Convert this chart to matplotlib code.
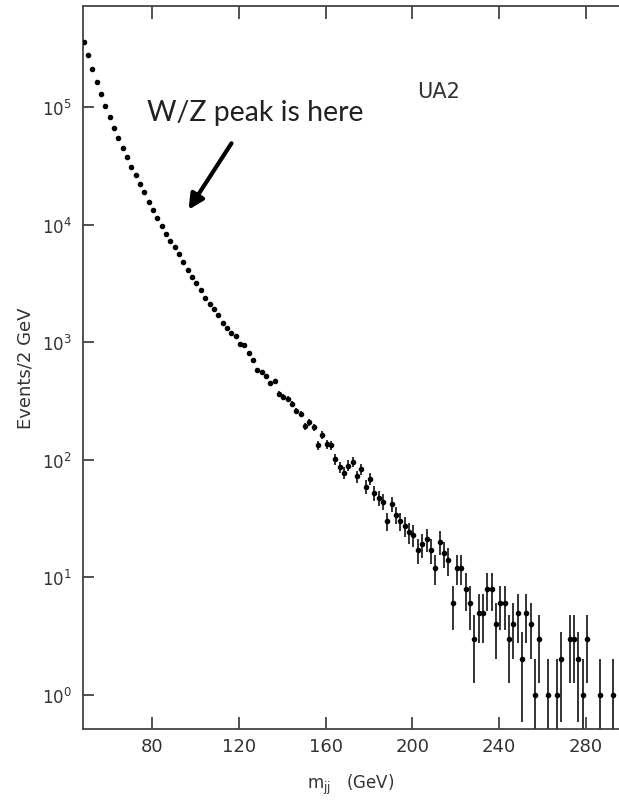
import matplotlib
matplotlib.use('Agg')
from matplotlib import pyplot as plt
import numpy as np

# UA2 dijet mass spectrum, 2 GeV bins (empty bins in the tail left out)
mass = [48.5, 50.5, 52.5, 54.5, 56.5, 58.5, 60.5, 62.5, 64.5, 66.5,
        68.5, 70.5, 72.5, 74.5, 76.5, 78.5, 80.5, 82.5, 84.5, 86.5,
        88.5, 90.5, 92.5, 94.5, 96.5, 98.5, 100.5, 102.5, 104.5, 106.5,
        108.5, 110.5, 112.5, 114.5, 116.5, 118.5, 120.5, 122.5, 124.5, 126.5,
        128.5, 130.5, 132.5, 134.5, 136.5, 138.5, 140.5, 142.5, 144.5, 146.5,
        148.5, 150.5, 152.5, 154.5, 156.5, 158.5, 160.5, 162.5, 164.5, 166.5,
        168.5, 170.5, 172.5, 174.5, 176.5, 178.5, 180.5, 182.5, 184.5, 186.5,
        188.5, 190.5, 192.5, 194.5, 196.5, 198.5, 200.5, 202.5, 204.5, 206.5,
        208.5, 210.5, 212.5, 214.5, 216.5, 218.5, 220.5, 222.5, 224.5, 226.5,
        228.5, 230.5, 232.5, 234.5, 236.5, 238.5, 240.5, 242.5, 244.5, 246.5,
        248.5, 250.5, 252.5, 254.5, 256.5, 258.5, 262.5, 266.5, 268.5, 272.5,
        274.5, 276.5, 278.5, 280.5, 286.5, 292.5]
events = [357000, 278000, 211000, 165000, 129000, 102000, 83000, 66000, 55000, 45000,
          37500, 31200, 26500, 22100, 18900, 15700, 13300, 11300, 9700, 8400,
          7200, 6400, 5600, 4800, 4140, 3600, 3190, 2800, 2380, 2110,
          1900, 1700, 1470, 1320, 1190, 1130, 967, 947, 805, 702,
          580, 555, 513, 450, 468, 362, 344, 329, 298, 261,
          245, 192, 208, 189, 133, 162, 136, 132, 101, 86,
          77, 89, 96, 72, 83, 59, 69, 52, 47, 44,
          30, 42, 34, 30, 27, 24, 23, 17, 19, 21,
          17, 12, 20, 16, 14, 6, 12, 12, 8, 6,
          3, 5, 5, 8, 8, 4, 6, 6, 3, 4,
          5, 2, 5, 4, 1, 3, 1, 1, 2, 3,
          3, 2, 1, 3, 1, 1]

x = np.array(mass)
y = np.array(events, dtype=float)
err_up = np.sqrt(y)
err_lo = np.minimum(np.sqrt(y), y * 0.999)

fig = plt.figure(figsize=(6.19, 8.03), dpi=100)
ax = fig.add_axes([0.1336, 0.0909, 0.8664, 0.900])

ax.errorbar(x, y, yerr=[err_lo, err_up], fmt='o', ms=3.0, color='black',
            ecolor='#333333', elinewidth=1.4, capsize=0, zorder=3)

ax.set_yscale('log')
ax.set_xlim(48.06, 295.2)
ax.set_ylim(0.51, 7.22e5)
ax.set_xticks([80, 120, 160, 200, 240, 280])
ax.set_yticks([1, 10, 100, 1000, 1e4, 1e5])
ax.minorticks_off()

ax.tick_params(axis='x', direction='in', top=True, length=9, width=1.2,
               labelsize=13, pad=6, colors='#333333')
ax.tick_params(axis='y', direction='in', length=8, width=1.2,
               labelsize=12, pad=8, colors='#333333')
for s in ['left', 'bottom', 'top']:
    ax.spines[s].set_linewidth(1.3)
    ax.spines[s].set_color('#444444')
ax.spines['right'].set_visible(False)

ax.set_xlabel('m$_{\\rm jj}$   (GeV)', fontsize=12, color='#333333', labelpad=12)
ax.set_ylabel('Events/2 GeV', fontsize=13, color='#333333', labelpad=5)

fig.text(0.6737, 0.878, 'UA2', fontsize=15, color='#333333', va='baseline')
fig.text(0.2375, 0.8497, 'W/Z peak is here', fontsize=20.5, family='Lato',
         color='#222222', va='baseline')
ax.annotate('', xy=(0.3021, 0.7347), xytext=(0.3764, 0.8232),
            xycoords='figure fraction', textcoords='figure fraction',
            arrowprops=dict(arrowstyle='-|>,head_length=0.9,head_width=0.45',
                            lw=3, color='black'))

fig.savefig('out.png', dpi=100)
